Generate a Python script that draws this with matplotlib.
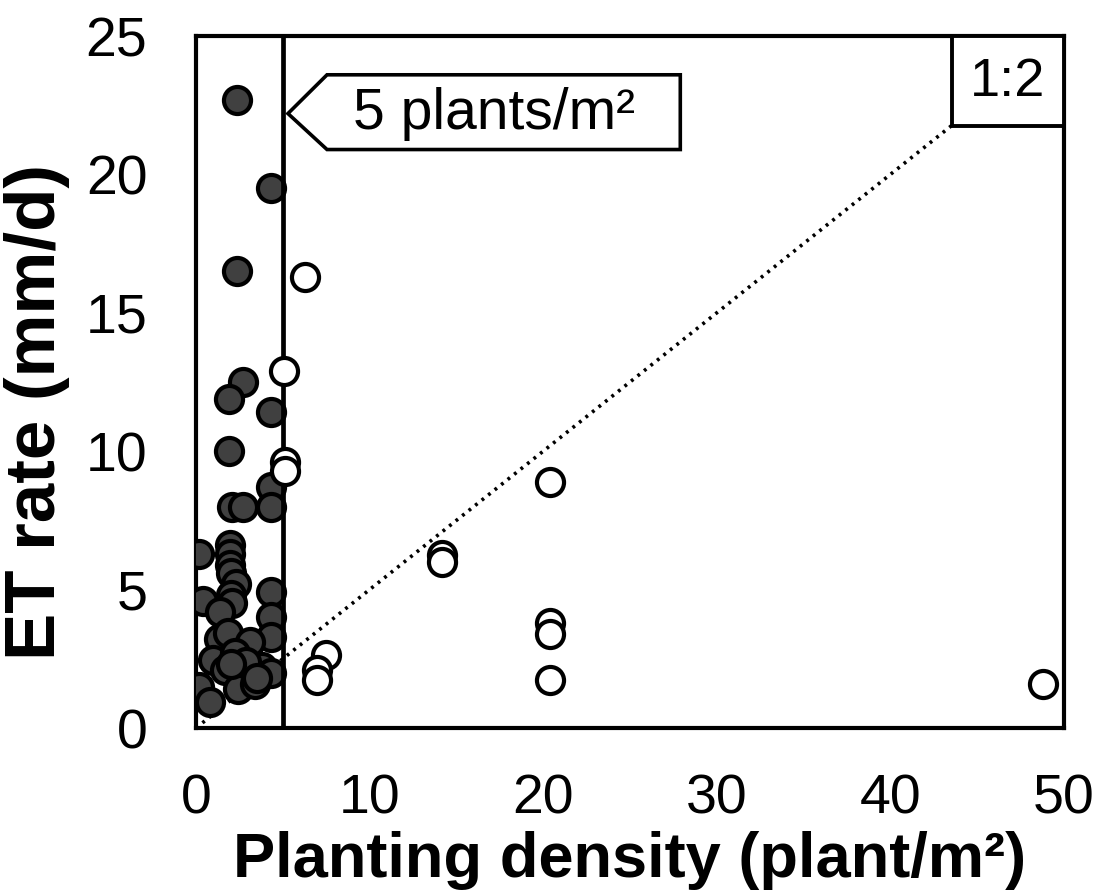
import matplotlib
matplotlib.use("Agg")
import matplotlib.pyplot as plt
from matplotlib.patches import Polygon, Rectangle

plt.rcParams["font.family"] = ["Liberation Sans", "DejaVu Sans"]

# below 5 plants/m2 (filled)
low_density = [2.35, 4.35, 2.35, 2.7, 1.9, 4.35, 1.9, 4.35, 2.1, 2.7, 4.35,
               0.2, 1.95, 1.95, 1.95, 2.0, 2.3, 2.0, 2.1, 0.4, 1.4, 4.35, 4.35,
               4.35, 1.3, 1.85, 3.1, 1.0, 2.25, 1.7, 2.8, 3.8, 4.35, 2.9, 2.4,
               3.4, 0.2, 0.8, 2.0, 3.5]
low_et = [22.7, 19.5, 16.5, 12.5, 11.9, 11.4, 10.0, 8.7, 8.0, 8.0, 8.0,
          6.3, 6.6, 6.3, 5.9, 5.6, 5.2, 4.8, 4.5, 4.6, 4.2, 4.9, 4.0,
          3.3, 3.2, 3.45, 3.1, 2.45, 2.7, 2.1, 2.1, 2.2, 2.0, 2.4, 1.4,
          1.6, 1.5, 0.95, 2.3, 1.8]

# 5 plants/m2 and above (open)
high_density = [6.3, 5.05, 5.15, 5.15, 7.5, 7.0, 7.0, 14.2, 14.2, 20.4, 20.4,
                20.4, 20.4, 48.8]
high_et = [16.3, 12.9, 9.6, 9.3, 2.65, 2.1, 1.75, 6.25, 6.0, 8.9, 3.8,
           3.4, 1.75, 1.6]

ratio_x = [0, 50]
ratio_y = [0, 25]

fig = plt.figure(figsize=(10.99, 8.90), dpi=100)
ax = fig.add_axes([0.1783, 0.1820, 0.7898, 0.7775])

ax.plot(ratio_x, ratio_y, color="black", lw=2.6, linestyle=(0, (0.8, 1.5)),
        zorder=1)
ax.scatter(low_density, low_et, s=380, facecolor="#404040",
           edgecolor="black", linewidths=3, zorder=3)
ax.axvline(5, color="black", lw=3.4, zorder=4)
ax.scatter(high_density, high_et, s=380, facecolor="white",
           edgecolor="black", linewidths=3, zorder=5)

# "5 plants/m²" tag
tag = Polygon([(5.3, 22.2), (7.55, 23.6), (27.9, 23.6), (27.9, 20.9),
               (7.55, 20.9)], closed=True, facecolor="white",
              edgecolor="black", lw=2.6, zorder=6)
ax.add_patch(tag)
ax.text(17.2, 22.2, "5 plants/m²", fontsize=41, ha="center", va="center",
        zorder=7)

# "1:2" box
box = Rectangle((43.55, 21.74), 6.45, 3.26, facecolor="white",
                edgecolor="black", lw=2.8, zorder=6)
ax.add_patch(box)
ax.text(46.75, 23.35, "1:2", fontsize=39, ha="center", va="center", zorder=7)

ax.set_xlim(0, 50)
ax.set_ylim(0, 25)
ax.set_xticks([0, 10, 20, 30, 40, 50])
ax.set_yticks([0, 5, 10, 15, 20, 25])
ax.tick_params(axis="both", length=0, labelsize=40)
ax.tick_params(axis="y", pad=35)
ax.tick_params(axis="x", pad=33)
for sp in ax.spines.values():
    sp.set_linewidth(3)

ax.set_xlabel("Planting density (plant/m²)", fontsize=45.5, fontweight="bold",
              labelpad=4)
fig.text(0.034, 0.537, "ET rate (mm/d)", fontsize=51, fontweight="bold",
         rotation=90, ha="center", va="center")

fig.savefig("out.png", dpi=100)
